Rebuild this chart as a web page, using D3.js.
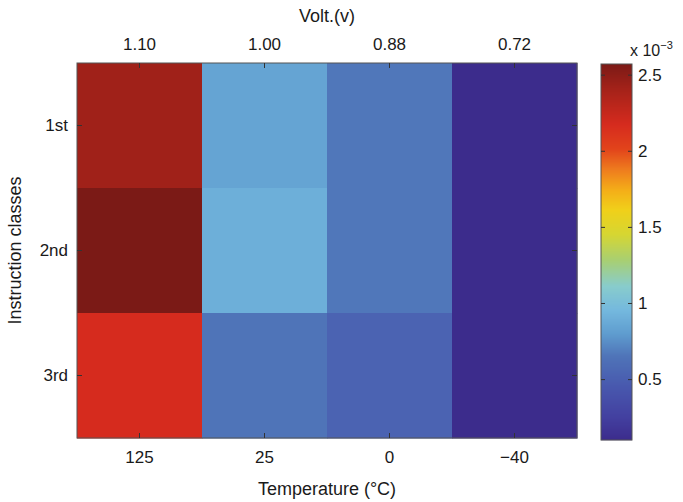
<!DOCTYPE html>
<html>
<head>
<meta charset="utf-8">
<script src="https://cdn.jsdelivr.net/npm/d3@7"></script>
<style>
  html, body { margin: 0; padding: 0; background: #fff; }
  text { font-family: "Liberation Sans", Arial, Helvetica, sans-serif; fill: #1a1a1a; }
</style>
</head>
<body>
<svg id="chart" width="683" height="502"></svg>
<script>
// ---- data ----
const temperatures = ["125", "25", "0", "\u221240"];
const voltages = ["1.10", "1.00", "0.88", "0.72"];
const classes = ["1st", "2nd", "3rd"];
// values in units of 1e-3, rows = classes, columns = temperatures
const row1st = [2.42, 0.84, 0.66, 0.10];
const row2nd = [2.57, 0.90, 0.66, 0.10];
const row3rd = [2.17, 0.65, 0.53, 0.10];
const colorbarTicks = [0.5, 1, 1.5, 2, 2.5];
const colorDomain = [0.10, 2.57];
// colormap (muted jet) stops sampled from the reference colorbar
const cmapValues = [0.10, 0.25, 0.45, 0.65, 0.80, 0.95, 1.11, 1.28, 1.45, 1.61, 1.74, 1.88, 2.01, 2.17, 2.40, 2.57];
const cmapColors = ["#3c2c8c", "#4340a0", "#4858ae", "#4f74b8", "#5f9dcf", "#74b8de", "#88cccc", "#a8cf72",
                    "#d6d632", "#f0d01a", "#f4ae18", "#ee7a1e", "#e2441b", "#d62b1e", "#a52219", "#7b1a16"];

const rows = [row1st, row2nd, row3rd];
const cells = [];
rows.forEach((r, i) => r.forEach((v, j) => cells.push({ cls: classes[i], temp: temperatures[j], volt: voltages[j], value: v })));

// ---- layout ----
const svg = d3.select("#chart");
const plot = { left: 77, right: 577, top: 63, bottom: 438 };
const cbar = { left: 601, right: 632, top: 64, bottom: 440 };

const x = d3.scaleBand().domain(temperatures).range([plot.left, plot.right]);
const xTop = d3.scaleBand().domain(voltages).range([plot.left, plot.right]);
const y = d3.scaleBand().domain(classes).range([plot.top, plot.bottom]);
const color = d3.scaleLinear().domain(cmapValues).range(cmapColors).interpolate(d3.interpolateRgb).clamp(true);

// cells
svg.append("g").selectAll("rect").data(cells).join("rect")
  .attr("x", d => x(d.temp))
  .attr("y", d => y(d.cls))
  .attr("width", x.bandwidth() + 0.5)
  .attr("height", y.bandwidth() + 0.5)
  .attr("fill", d => color(d.value));

// box
svg.append("rect")
  .attr("x", plot.left).attr("y", plot.top)
  .attr("width", plot.right - plot.left).attr("height", plot.bottom - plot.top)
  .attr("fill", "none").attr("stroke", "#555").attr("stroke-width", 1);

const tickFont = 17;
function styleAxis(g) {
  g.select(".domain").remove();
  g.selectAll(".tick line").attr("stroke", "#333").attr("stroke-width", 1);
  g.selectAll(".tick text").attr("font-size", tickFont).attr("fill", "#1a1a1a")
    .attr("font-family", "Liberation Sans, Arial, sans-serif");
}

// bottom axis (temperature)
svg.append("g").attr("transform", `translate(0,${plot.bottom})`)
  .call(d3.axisBottom(x).tickSizeInner(-5).tickSizeOuter(0).tickPadding(13))
  .call(styleAxis);
// top axis (voltage)
svg.append("g").attr("transform", `translate(0,${plot.top})`)
  .call(d3.axisTop(xTop).tickSizeInner(-5).tickSizeOuter(0).tickPadding(13))
  .call(styleAxis);
// left axis (classes)
svg.append("g").attr("transform", `translate(${plot.left},0)`)
  .call(d3.axisLeft(y).tickSizeInner(-5).tickSizeOuter(0).tickPadding(9))
  .call(styleAxis);
// right ticks (no labels)
svg.append("g").attr("transform", `translate(${plot.right},0)`)
  .call(d3.axisRight(y).tickSizeInner(-5).tickSizeOuter(0).tickFormat(""))
  .call(styleAxis);

// axis titles
svg.append("text").attr("x", (plot.left + plot.right) / 2).attr("y", 22)
  .attr("text-anchor", "middle").attr("font-size", 18).text("Volt.(v)");
svg.append("text").attr("x", (plot.left + plot.right) / 2).attr("y", 495)
  .attr("text-anchor", "middle").attr("font-size", 18).text("Temperature (\u00B0C)");
svg.append("text").attr("transform", `translate(21,${(plot.top + plot.bottom) / 2}) rotate(-90)`)
  .attr("text-anchor", "middle").attr("font-size", 18).text("Instruction classes");

// ---- colorbar ----
const cy = d3.scaleLinear().domain(colorDomain).range([cbar.bottom, cbar.top]);
const steps = d3.range(cbar.top, cbar.bottom, 1);
svg.append("g").selectAll("rect").data(steps).join("rect")
  .attr("x", cbar.left).attr("y", d => d)
  .attr("width", cbar.right - cbar.left).attr("height", 1.2)
  .attr("fill", d => color(cy.invert(d + 0.5)));
svg.append("rect")
  .attr("x", cbar.left).attr("y", cbar.top)
  .attr("width", cbar.right - cbar.left).attr("height", cbar.bottom - cbar.top)
  .attr("fill", "none").attr("stroke", "#555").attr("stroke-width", 1);

svg.append("g").attr("transform", `translate(${cbar.right},0)`)
  .call(d3.axisRight(cy).tickValues(colorbarTicks).tickFormat(d3.format("")).tickSizeInner(-4).tickSizeOuter(0).tickPadding(6))
  .call(styleAxis);
svg.append("g").attr("transform", `translate(${cbar.left},0)`)
  .call(d3.axisLeft(cy).tickValues(colorbarTicks).tickFormat("").tickSizeInner(-4).tickSizeOuter(0))
  .call(styleAxis);

// exponent label
const expo = svg.append("text").attr("x", 630).attr("y", 56).attr("font-size", 16);
expo.append("tspan").text("x 10");
expo.append("tspan").attr("dy", -7).attr("font-size", 11).text("\u22123");
</script>
</body>
</html>
